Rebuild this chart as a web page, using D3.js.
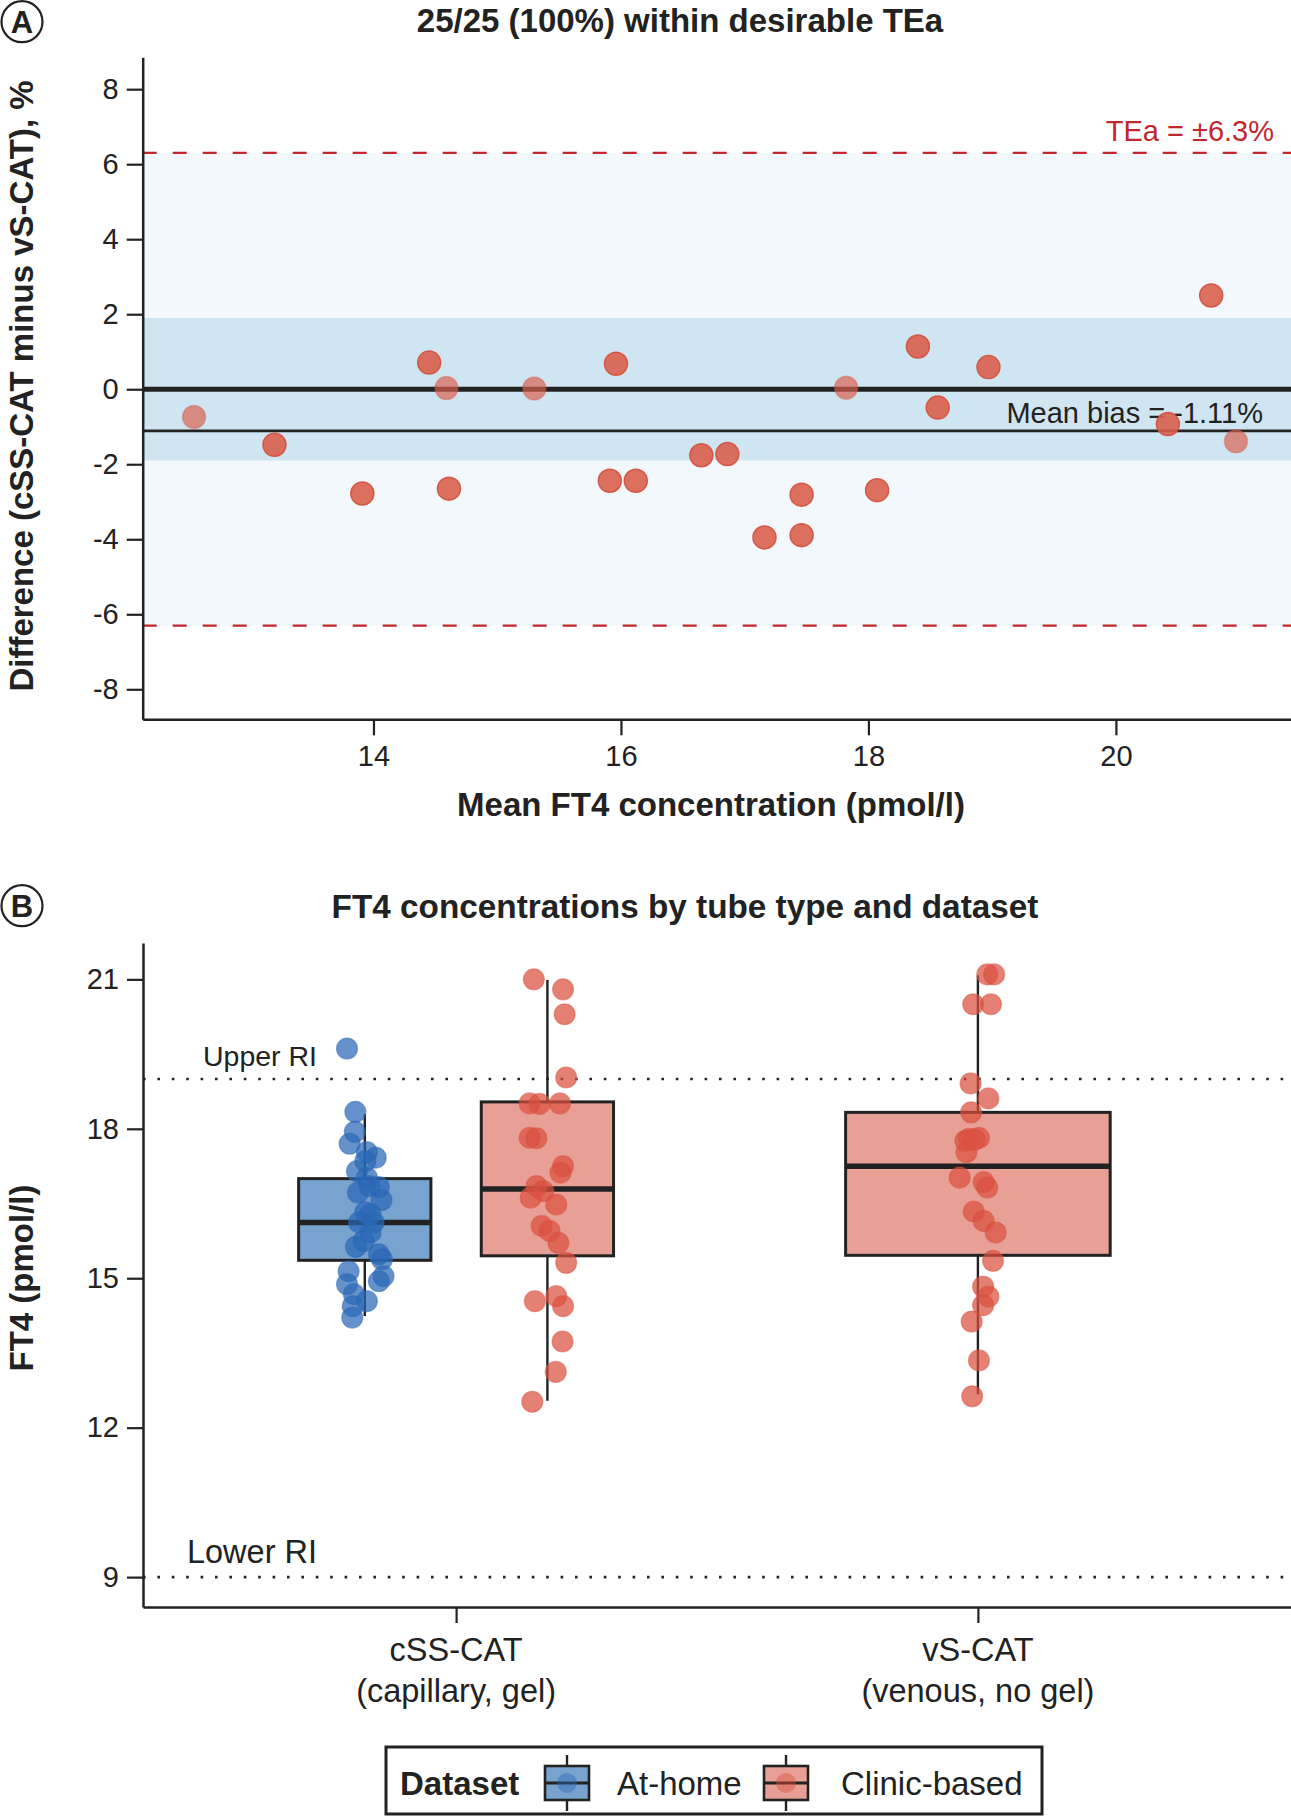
<!DOCTYPE html>
<html>
<head>
<meta charset="utf-8">
<script src="https://cdn.jsdelivr.net/npm/d3@7/dist/d3.min.js"></script>
<style>
  body { margin: 0; background: #fff; }
  svg { display: block; font-family: "Liberation Sans", Arial, Helvetica, sans-serif; }
</style>
</head>
<body>
<svg id="chart" width="1291" height="1817"></svg>
<script>
// ---------------- Panel A data (Bland-Altman) ----------------
const baMean = [12.55, 13.20, 13.91, 14.45, 14.59, 14.61, 15.30, 15.91, 15.96, 16.12, 16.65, 16.86,
                17.16, 17.46, 17.46, 17.82, 18.07, 18.40, 18.56, 18.97, 20.42, 20.77, 20.97];
const baDiff = [-0.74, -1.48, -2.78, 0.71, 0.03, -2.65, 0.02, -2.44, 0.68, -2.44, -1.76, -1.73,
                -3.95, -2.81, -3.89, 0.04, -2.69, 1.14, -0.49, 0.59, -0.93, 2.50, -1.39];
const baFaded = [1, 0, 0, 0, 1, 0, 1, 0, 0, 0, 0, 0, 0, 0, 0, 1, 0, 0, 0, 0, 0, 0, 1];
const meanBias = -1.11;
const teaLimit = 6.3;
const desirableBand = 1.9;
const aXTicks = [14, 16, 18, 20];
const aYTicks = [-8, -6, -4, -2, 0, 2, 4, 6, 8];

// ---------------- Panel B data ----------------
const categories = ["cSS-CAT", "vS-CAT"];
const categorySub = ["(capillary, gel)", "(venous, no gel)"];
const datasets = ["At-home", "Clinic-based"];
const bYTicks = [9, 12, 15, 18, 21];
const upperRI = 19;
const lowerRI = 9;

// At-home, cSS-CAT
const homeCss = [19.61, 18.34, 17.94, 17.70, 17.53, 17.42, 17.35, 17.15, 17.02, 16.83, 16.85, 16.72,
                 16.57, 16.33, 16.29, 16.12, 16.12, 15.92, 15.75, 15.63, 15.48, 15.38, 15.14, 15.04,
                 14.94, 14.88, 14.68, 14.54, 14.44, 14.21];
const homeCssJitter = [-0.034, -0.018, -0.019, -0.029, 0.004, 0.021, 0.001, -0.015, 0.004, 0.027, 0.009, -0.013,
                       0.032, 0.001, 0.011, -0.011, 0.017, 0.011, -0.002, -0.017, 0.027, 0.033, -0.031, 0.036,
                       0.027, -0.034, -0.021, 0.004, -0.023, -0.024];
// Clinic-based, cSS-CAT
const clinicCss = [21.00, 20.80, 20.30, 19.03, 18.51, 18.50, 18.51, 17.82, 17.81, 17.25, 17.12, 16.85,
                   16.75, 16.62, 16.48, 16.05, 15.95, 15.71, 15.31, 14.54, 14.64, 14.44, 13.73, 13.12, 12.52];
const clinicCssJitter = [-0.026, 0.030, 0.033, 0.036, -0.034, -0.015, 0.024, -0.034, -0.021, 0.030, 0.025, -0.021,
                         -0.008, -0.032, 0.017, -0.011, 0.004, 0.021, 0.036, -0.024, 0.017, 0.030, 0.029, 0.016, -0.029];
// Clinic-based, vS-CAT
const clinicVs = [21.10, 21.10, 20.50, 20.50, 18.91, 18.61, 18.33, 17.76, 17.82, 17.80, 17.53, 17.02,
                  16.93, 16.82, 16.34, 16.15, 15.92, 15.35, 14.83, 14.63, 14.46, 14.13, 13.35, 12.63, 17.78];
const clinicVsJitter = [0.018, 0.031, -0.009, 0.025, -0.014, 0.020, -0.013, -0.024, 0.002, -0.017, -0.022, -0.035,
                        0.011, 0.018, -0.008, 0.011, 0.034, 0.029, 0.010, 0.020, 0.010, -0.012, 0.002, -0.011, -0.006];

// Box summaries
const boxCategory = ["cSS-CAT", "cSS-CAT", "vS-CAT"];
const boxDataset = ["At-home", "Clinic-based", "Clinic-based"];
const boxLow = [14.24, 12.54, 12.67];
const boxQ1 = [15.36, 15.45, 15.46];
const boxMedian = [16.12, 16.79, 17.25];
const boxQ3 = [17.00, 18.54, 18.33];
const boxHigh = [18.30, 20.99, 21.08];

// ---------------- Drawing ----------------
const svg = d3.select("#chart");
const ink = "#222222";
const teaRed = "#c1272d";
const colorFill = d3.scaleOrdinal().domain(datasets).range(["#79a3cf", "#e8a096"]);
const colorPoint = d3.scaleOrdinal().domain(datasets).range(["#2a68b5", "#d9503f"]);

function panelLetter(cx, cy, letter) {
  svg.append("circle").attr("cx", cx).attr("cy", cy).attr("r", 20.5)
    .attr("fill", "none").attr("stroke", ink).attr("stroke-width", 2.2);
  svg.append("text").attr("x", cx).attr("y", cy + 11).attr("text-anchor", "middle")
    .attr("font-size", 31).attr("font-weight", "bold").attr("fill", ink).text(letter);
}

function styleAxis(g, size) {
  g.select(".domain").attr("stroke", ink).attr("stroke-width", 2.5);
  g.selectAll(".tick line").attr("stroke", ink).attr("stroke-width", 2.2);
  g.selectAll(".tick text").attr("fill", ink).attr("font-size", size)
    .attr("font-family", "'Liberation Sans', Arial, sans-serif");
}

// ===== Panel A =====
const xA = d3.scaleLinear().domain([12.135, 21.415]).range([142.7, 1291]);
const yA = d3.scaleLinear().domain([-8.8, 8.85]).range([719.3, 57.3]);

panelLetter(22, 21.7, "A");
svg.append("text").attr("x", 680).attr("y", 32).attr("text-anchor", "middle")
  .attr("font-size", 33).attr("font-weight", "bold").attr("fill", ink)
  .text("25/25 (100%) within desirable TEa");

const gA = svg.append("g");
// TEa band
gA.append("rect").attr("x", xA.range()[0]).attr("width", xA.range()[1] - xA.range()[0])
  .attr("y", yA(teaLimit)).attr("height", yA(-teaLimit) - yA(teaLimit)).attr("fill", "#f2f8fc");
// desirable bias band
gA.append("rect").attr("x", xA.range()[0]).attr("width", xA.range()[1] - xA.range()[0])
  .attr("y", yA(desirableBand)).attr("height", yA(-desirableBand) - yA(desirableBand)).attr("fill", "#d0e5f2");
// TEa limit lines
[teaLimit, -teaLimit].forEach(v => {
  gA.append("line").attr("x1", xA.range()[0]).attr("x2", xA.range()[1])
    .attr("y1", yA(v)).attr("y2", yA(v))
    .attr("stroke", teaRed).attr("stroke-width", 2.3).attr("stroke-dasharray", "14,16");
});
// zero line
gA.append("line").attr("x1", xA.range()[0]).attr("x2", xA.range()[1])
  .attr("y1", yA(0)).attr("y2", yA(0)).attr("stroke", ink).attr("stroke-width", 5);
// mean bias line
gA.append("line").attr("x1", xA.range()[0]).attr("x2", xA.range()[1])
  .attr("y1", yA(meanBias)).attr("y2", yA(meanBias)).attr("stroke", ink).attr("stroke-width", 2.6);

gA.append("text").attr("x", 1263).attr("y", yA(meanBias) - 8).attr("text-anchor", "end")
  .attr("font-size", 29).attr("fill", ink).text("Mean bias = " + meanBias.toFixed(2) + "%");
gA.append("text").attr("x", 1274).attr("y", yA(teaLimit) - 12).attr("text-anchor", "end")
  .attr("font-size", 29).attr("fill", teaRed).text("TEa = \u00b1" + teaLimit + "%");

// points
gA.selectAll("circle.ba").data(baMean.map((m, i) => ({ m, d: baDiff[i], f: baFaded[i] })))
  .join("circle").attr("class", "ba")
  .attr("cx", d => xA(d.m)).attr("cy", d => yA(d.d)).attr("r", 11.5)
  .attr("fill", "#d95f4c").attr("fill-opacity", d => d.f ? 0.68 : 0.9)
  .attr("stroke", "#d4503d").attr("stroke-opacity", d => d.f ? 0.35 : 0.9).attr("stroke-width", 1.5);

// axes A
const axAy = svg.append("g").attr("transform", `translate(${xA.range()[0]},0)`)
  .call(d3.axisLeft(yA).tickValues(aYTicks).tickSize(16).tickSizeOuter(0).tickPadding(8)
    .tickFormat(d => String(d).replace("\u2212", "-")));
styleAxis(axAy, 29);
const axAx = svg.append("g").attr("transform", `translate(0,${yA.range()[0]})`)
  .call(d3.axisBottom(xA).tickValues(aXTicks).tickSize(16).tickSizeOuter(0).tickPadding(10));
styleAxis(axAx, 29);

svg.append("text").attr("x", 711).attr("y", 816).attr("text-anchor", "middle")
  .attr("font-size", 33).attr("font-weight", "bold").attr("fill", ink)
  .text("Mean FT4 concentration (pmol/l)");
svg.append("text").attr("transform", "translate(33,386) rotate(-90)").attr("text-anchor", "middle")
  .attr("font-size", 33).attr("font-weight", "bold").attr("fill", ink)
  .text("Difference (cSS-CAT minus vS-CAT), %");

// ===== Panel B =====
const xB = d3.scaleLinear().domain([0.4, 2.6]).range([143, 1291]);
const yB = d3.scaleLinear().domain([8.4, 21.73]).range([1607, 943]);
const catIndex = c => categories.indexOf(c) + 1;
const dodge = 0.175, singleWidth = 0.507, dodgedWidth = 0.2535;

function groupCenter(cat, ds) {
  const present = boxDataset.filter((d, i) => boxCategory[i] === cat);
  if (present.length < 2) return catIndex(cat);
  return catIndex(cat) + (datasets.indexOf(ds) === 0 ? -dodge : dodge);
}
function groupWidth(cat) {
  return boxCategory.filter(c => c === cat).length < 2 ? singleWidth : dodgedWidth;
}

panelLetter(22, 905.7, "B");
svg.append("text").attr("x", 685).attr("y", 918).attr("text-anchor", "middle")
  .attr("font-size", 33.3).attr("font-weight", "bold").attr("fill", ink)
  .text("FT4 concentrations by tube type and dataset");

const gB = svg.append("g");
// reference interval lines
[upperRI, lowerRI].forEach(v => {
  gB.append("line").attr("x1", xB.range()[0]).attr("x2", xB.range()[1])
    .attr("y1", yB(v)).attr("y2", yB(v))
    .attr("stroke", ink).attr("stroke-width", 2.6).attr("stroke-dasharray", "2.6,11.8");
});
gB.append("text").attr("x", 317).attr("y", yB(upperRI) - 13).attr("text-anchor", "end")
  .attr("font-size", 28.5).attr("fill", ink).text("Upper RI");
gB.append("text").attr("x", 317).attr("y", yB(lowerRI) - 14).attr("text-anchor", "end")
  .attr("font-size", 32.5).attr("fill", ink).text("Lower RI");

// boxes
const boxes = boxCategory.map((c, i) => ({
  cat: c, ds: boxDataset[i], lo: boxLow[i], q1: boxQ1[i], med: boxMedian[i], q3: boxQ3[i], hi: boxHigh[i]
}));
boxes.forEach(b => {
  const cx = groupCenter(b.cat, b.ds), w = groupWidth(b.cat);
  const g = gB.append("g");
  g.append("line").attr("x1", xB(cx)).attr("x2", xB(cx)).attr("y1", yB(b.hi)).attr("y2", yB(b.q3))
    .attr("stroke", ink).attr("stroke-width", 2.4);
  g.append("line").attr("x1", xB(cx)).attr("x2", xB(cx)).attr("y1", yB(b.q1)).attr("y2", yB(b.lo))
    .attr("stroke", ink).attr("stroke-width", 2.4);
  g.append("rect").attr("x", xB(cx - w / 2)).attr("width", xB(cx + w / 2) - xB(cx - w / 2))
    .attr("y", yB(b.q3)).attr("height", yB(b.q1) - yB(b.q3))
    .attr("fill", colorFill(b.ds)).attr("stroke", ink).attr("stroke-width", 3);
  g.append("line").attr("x1", xB(cx - w / 2)).attr("x2", xB(cx + w / 2))
    .attr("y1", yB(b.med)).attr("y2", yB(b.med)).attr("stroke", ink).attr("stroke-width", 5.5);
});

// jittered points
const pointSets = [
  { cat: "cSS-CAT", ds: "At-home", vals: homeCss, jit: homeCssJitter },
  { cat: "cSS-CAT", ds: "Clinic-based", vals: clinicCss, jit: clinicCssJitter },
  { cat: "vS-CAT", ds: "Clinic-based", vals: clinicVs, jit: clinicVsJitter }
];
pointSets.forEach(s => {
  const cx = groupCenter(s.cat, s.ds);
  gB.append("g").selectAll("circle").data(s.vals.map((v, i) => ({ v, j: s.jit[i] })))
    .join("circle")
    .attr("cx", d => xB(cx + d.j)).attr("cy", d => yB(d.v)).attr("r", 10.5)
    .attr("fill", colorPoint(s.ds)).attr("fill-opacity", 0.72)
    .attr("stroke", colorPoint(s.ds)).attr("stroke-opacity", 0.5).attr("stroke-width", 1.2);
});

// axes B
const axBy = svg.append("g").attr("transform", `translate(${xB.range()[0]},0)`)
  .call(d3.axisLeft(yB).tickValues(bYTicks).tickSize(16).tickSizeOuter(0).tickPadding(8));
styleAxis(axBy, 29);
const axBx = svg.append("g").attr("transform", `translate(0,${yB.range()[0]})`)
  .call(d3.axisBottom(xB).tickValues(categories.map((c, i) => i + 1)).tickSize(16).tickSizeOuter(0)
    .tickFormat(""));
styleAxis(axBx, 33);
categories.forEach((c, i) => {
  const t = svg.append("text").attr("text-anchor", "middle").attr("font-size", 32.5).attr("fill", ink);
  t.append("tspan").attr("x", xB(i + 1)).attr("y", 1661).text(c);
  t.append("tspan").attr("x", xB(i + 1)).attr("y", 1702).text(categorySub[i]);
});

svg.append("text").attr("transform", "translate(33,1278) rotate(-90)").attr("text-anchor", "middle")
  .attr("font-size", 33).attr("font-weight", "bold").attr("fill", ink).text("FT4 (pmol/l)");

// legend
const lg = svg.append("g");
lg.append("rect").attr("x", 386).attr("y", 1747).attr("width", 656).attr("height", 67)
  .attr("fill", "#fff").attr("stroke", ink).attr("stroke-width", 3);
lg.append("text").attr("x", 400).attr("y", 1795).attr("font-size", 33).attr("font-weight", "bold")
  .attr("fill", ink).text("Dataset");
const keyX = [567, 786], labelX = [617, 841];
datasets.forEach((ds, i) => {
  const cx = keyX[i], cy = 1783;
  lg.append("line").attr("x1", cx).attr("x2", cx).attr("y1", cy - 28).attr("y2", cy + 28)
    .attr("stroke", ink).attr("stroke-width", 2.4);
  lg.append("rect").attr("x", cx - 22).attr("y", cy - 17).attr("width", 44).attr("height", 34)
    .attr("fill", colorFill(ds)).attr("stroke", ink).attr("stroke-width", 2.6);
  lg.append("line").attr("x1", cx - 22).attr("x2", cx + 22).attr("y1", cy).attr("y2", cy)
    .attr("stroke", ink).attr("stroke-width", 3);
  lg.append("circle").attr("cx", cx).attr("cy", cy).attr("r", 10)
    .attr("fill", colorPoint(ds)).attr("fill-opacity", 0.45);
  lg.append("text").attr("x", labelX[i]).attr("y", 1795).attr("font-size", 33).attr("fill", ink).text(ds);
});
</script>
</body>
</html>
